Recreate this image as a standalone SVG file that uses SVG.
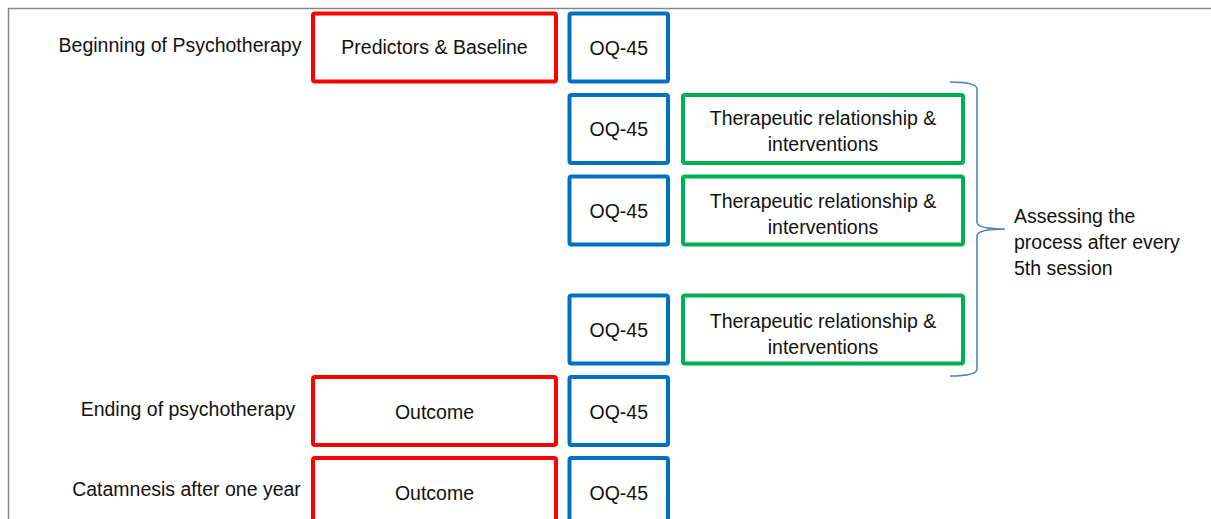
<svg xmlns="http://www.w3.org/2000/svg" width="1211" height="519" viewBox="0 0 1211 519">
<style>
text{font-family:"Liberation Sans",Arial,sans-serif;font-size:19.5px;fill:#111}
.c{text-anchor:middle}
.r{fill:#fff;stroke:#FF0000;stroke-width:4}
.b{fill:#fff;stroke:#0070C0;stroke-width:4}
.g{fill:#fff;stroke:#00B050;stroke-width:4}
.frame{fill:none;stroke:#888;stroke-width:1.5}
.brace{fill:none;stroke:#4A7EBB;stroke-width:1.5}
</style>
<rect width="1211" height="519" fill="#fff"/>
<path class="frame" d="M8.5,519 V8.5 H1211"/>
<g id="labels">
<text class="c" x="180" y="52">Beginning of Psychotherapy</text>
<text class="c" x="188" y="416">Ending of psychotherapy</text>
<text class="c" x="186.5" y="496">Catamnesis after one year</text>
</g>
<g id="predictors"><rect class="r" x="313" y="13.5" width="243" height="68" rx="2"/><text class="c" x="434.5" y="54">Predictors &amp; Baseline</text></g>
<g id="oq1"><rect class="b" x="569.5" y="13.5" width="98.5" height="68" rx="2"/><text class="c" x="618.75" y="54.5">OQ-45</text></g>
<g id="oq2"><rect class="b" x="569.5" y="95" width="98.5" height="68" rx="2"/><text class="c" x="618.75" y="136">OQ-45</text></g>
<g id="tr1"><rect class="g" x="683" y="95" width="280" height="68" rx="2"/><text class="c" x="823" y="125">Therapeutic relationship &amp;</text><text class="c" x="823" y="151">interventions</text></g>
<g id="oq3"><rect class="b" x="569.5" y="176.5" width="98.5" height="68" rx="2"/><text class="c" x="618.75" y="217.5">OQ-45</text></g>
<g id="tr2"><rect class="g" x="683" y="176.5" width="280" height="68" rx="2"/><text class="c" x="823" y="207.5">Therapeutic relationship &amp;</text><text class="c" x="823" y="233.5">interventions</text></g>
<g id="oq4"><rect class="b" x="569.5" y="295.5" width="98.5" height="68" rx="2"/><text class="c" x="618.75" y="336.5">OQ-45</text></g>
<g id="tr3"><rect class="g" x="683" y="295.5" width="280" height="68" rx="2"/><text class="c" x="823" y="328">Therapeutic relationship &amp;</text><text class="c" x="823" y="353.5">interventions</text></g>
<g id="outcome1"><rect class="r" x="313" y="377" width="243" height="68" rx="2"/><text class="c" x="434.5" y="419">Outcome</text></g>
<g id="oq5"><rect class="b" x="569.5" y="377" width="98.5" height="68" rx="2"/><text class="c" x="618.75" y="419">OQ-45</text></g>
<g id="outcome2"><rect class="r" x="313" y="458" width="243" height="68" rx="2"/><text class="c" x="434.5" y="499.5">Outcome</text></g>
<g id="oq6"><rect class="b" x="569.5" y="458" width="98.5" height="68" rx="2"/><text class="c" x="618.75" y="499.5">OQ-45</text></g>
<g id="connectors">
<path class="brace" d="M950,82 Q977,82 977,89 L977,222 Q977,229 1005,229 Q977,229 977,236 L977,369 Q977,376 950,376"/>
</g>
<g id="note">
<text x="1014" y="223">Assessing the</text>
<text x="1014" y="249">process after every</text>
<text x="1014" y="275">5th session</text>
</g>
</svg>
